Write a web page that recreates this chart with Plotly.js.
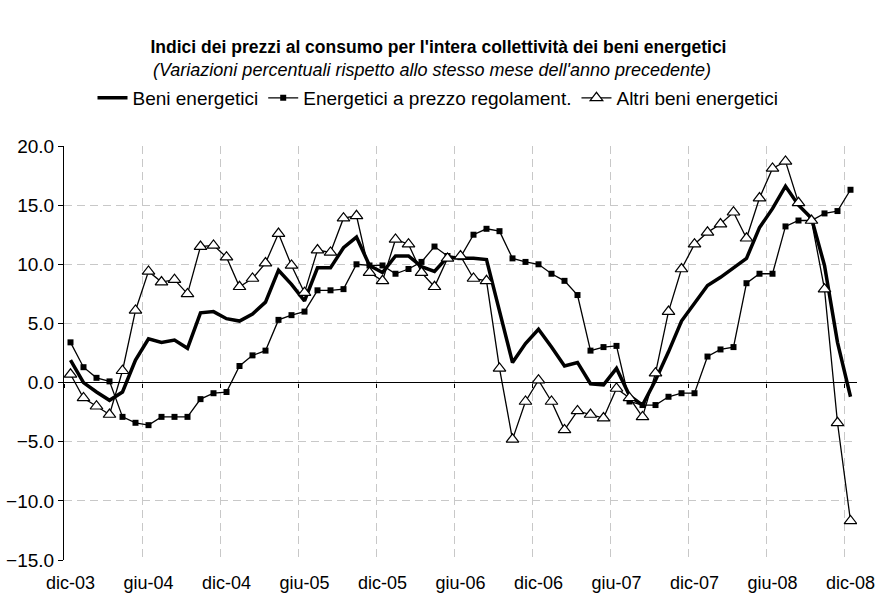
<!DOCTYPE html>
<html>
<head>
<meta charset="utf-8">
<script src="https://cdn.plot.ly/plotly-3.0.1.min.js"></script>
<style>html,body{margin:0;padding:0;background:#fff;}#chart{width:877px;height:594px;}</style>
</head>
<body>
<div id="chart"></div>
<script>
const months = [
  'dic-03',
  'gen-04','feb-04','mar-04','apr-04','mag-04','giu-04','lug-04','ago-04','set-04','ott-04','nov-04','dic-04',
  'gen-05','feb-05','mar-05','apr-05','mag-05','giu-05','lug-05','ago-05','set-05','ott-05','nov-05','dic-05',
  'gen-06','feb-06','mar-06','apr-06','mag-06','giu-06','lug-06','ago-06','set-06','ott-06','nov-06','dic-06',
  'gen-07','feb-07','mar-07','apr-07','mag-07','giu-07','lug-07','ago-07','set-07','ott-07','nov-07','dic-07',
  'gen-08','feb-08','mar-08','apr-08','mag-08','giu-08','lug-08','ago-08','set-08','ott-08','nov-08','dic-08'
];
const tickLabels = ['dic-03','giu-04','dic-04','giu-05','dic-05','giu-06','dic-06','giu-07','dic-07','giu-08','dic-08'];

const beniEnergetici = [
  1.9,
  0.0, -0.8, -1.5, -0.8, 1.9, 3.7, 3.4, 3.6, 2.9, 5.9, 6.0, 5.4,
  5.2, 5.8, 6.8, 9.5, 8.3, 6.9, 9.7, 9.7, 11.4, 12.3, 9.9, 9.3,
  10.7, 10.7, 9.8, 9.4, 10.6, 10.5, 10.5, 10.4, 6.1, 1.7, 3.3, 4.5,
  3.0, 1.4, 1.7, -0.1, -0.2, 1.2, -1.1, -1.9, 0.2, 2.6, 5.2, 6.7,
  8.2, 8.9, 9.7, 10.5, 13.1, 14.7, 16.6, 15.0, 13.9, 9.9, 3.4, -1.2
];
const prezzoRegolamentato = [
  3.4,
  1.3, 0.4, 0.1, -2.9, -3.4, -3.6, -2.9, -2.9, -2.9, -1.4, -0.9, -0.8,
  1.4, 2.3, 2.7, 5.3, 5.7, 6.0, 7.8, 7.8, 7.9, 10.0, 9.9, 9.9,
  9.2, 9.6, 10.2, 11.5, 10.7, 10.6, 12.5, 13.0, 12.8, 10.5, 10.2, 10.0,
  9.2, 8.6, 7.4, 2.7, 3.0, 3.1, -1.6, -1.9, -1.9, -1.2, -0.9, -0.9,
  2.2, 2.8, 3.0, 8.4, 9.2, 9.2, 13.2, 13.7, 13.7, 14.3, 14.5, 16.3
];
const altriBeni = [
  0.7,
  -1.3, -2.0, -2.7, 1.0, 6.1, 9.4, 8.5, 8.7, 7.5, 11.5, 11.6, 10.6,
  8.1, 8.8, 10.1, 12.6, 9.9, 7.6, 11.2, 11.0, 13.9, 14.1, 9.3, 8.6,
  12.1, 11.7, 9.3, 8.1, 10.5, 10.7, 8.8, 8.6, 1.2, -4.8, -1.6, 0.2,
  -1.6, -4.0, -2.4, -2.7, -3.0, -0.5, -1.3, -2.9, 0.8, 6.0, 9.6, 11.7,
  12.7, 13.4, 14.4, 12.2, 15.6, 18.1, 18.7, 15.2, 13.7, 7.9, -3.4, -11.7
];
const seriesNames = ['Beni energetici', 'Energetici a prezzo regolament.', 'Altri beni energetici'];
const yTicks = [-15, -10, -5, 0, 5, 10, 15, 20];
const yRange = [-15, 20];

const FONT = 'Liberation Sans, Arial, sans-serif';

const traces = [
  {
    x: months, y: beniEnergetici, name: seriesNames[0], type: 'scatter', mode: 'lines',
    line: {color: '#000', width: 3.5}
  },
  {
    x: months, y: prezzoRegolamentato, name: seriesNames[1], type: 'scatter', mode: 'lines+markers',
    line: {color: '#000', width: 1.3},
    marker: {symbol: 'square', size: 6, color: '#000', line: {width: 0}}
  },
  {
    x: months, y: altriBeni, name: seriesNames[2], type: 'scatter', mode: 'lines+markers',
    line: {color: '#000', width: 1.3},
    marker: {symbol: 'triangle-up', size: 11, color: '#fff', line: {color: '#000', width: 1.2}}
  },
  {
    // empty helper trace so that the tick axis at y = 0 is drawn
    x: [], y: [], xaxis: 'x2', yaxis: 'y', type: 'scatter', mode: 'lines',
    showlegend: false, hoverinfo: 'skip'
  }
];

const layout = {
  width: 877, height: 594,
  margin: {l: 64, r: 20, t: 146, b: 34},
  paper_bgcolor: '#fff', plot_bgcolor: '#fff',
  font: {family: FONT, color: '#000', size: 18},
  showlegend: true,
  title: {
    text: "<b>Indici dei prezzi al consumo per l'intera collettività dei beni energetici</b>",
    font: {family: FONT, size: 17.5, color: '#000'},
    x: 0.5, xanchor: 'center', xref: 'container',
    y: 1 - 47/594, yanchor: 'middle'
  },
  annotations: [{
    text: "<i>(Variazioni percentuali rispetto allo stesso mese dell'anno precedente)</i>",
    xref: 'paper', yref: 'paper', x: (432 - 64) / 793, y: (560 - 70) / 414,
    xanchor: 'center', yanchor: 'middle', showarrow: false,
    font: {family: FONT, size: 18, color: '#000'}
  }],
  legend: {
    orientation: 'h', x: (438 - 64) / 793, xanchor: 'center', y: (560 - 98) / 414, yanchor: 'middle',
    font: {family: FONT, size: 19, color: '#000'},
    itemwidth: 30, tracegroupgap: 0, bgcolor: 'rgba(0,0,0,0)'
  },
  xaxis: {
    type: 'category',
    categoryorder: 'array', categoryarray: months,
    range: [-0.5, 60.5],
    tickmode: 'array', tickvals: tickLabels, ticktext: tickLabels,
    tickson: 'boundaries', tickangle: 0,
    ticks: '', ticklabelstandoff: 10,
    showline: false, zeroline: false,
    showgrid: true, gridcolor: '#c8c8c8', gridwidth: 1, griddash: '8px,5px',
    tickfont: {family: FONT, size: 18, color: '#000'},
    fixedrange: true
  },
  xaxis2: {
    type: 'linear',
    overlaying: 'x', anchor: 'free', position: (0 - yRange[0]) / (yRange[1] - yRange[0]),
    range: [-0.5, 60.5], autorange: false, tickmode: 'linear', tick0: -0.5, dtick: 6,
    ticks: 'outside', ticklen: 4, tickcolor: '#000', tickwidth: 1,
    showticklabels: false, showgrid: false, zeroline: false, showline: false,
    fixedrange: true
  },
  yaxis: {
    range: yRange,
    tickmode: 'array', tickvals: yTicks, tickformat: '.1f',
    showline: true, linecolor: '#000', linewidth: 1,
    ticks: 'outside', ticklen: 5, tickcolor: '#000', tickwidth: 1,
    showgrid: true, gridcolor: '#c8c8c8', gridwidth: 1, griddash: '8px,5px',
    zeroline: true, zerolinecolor: '#000', zerolinewidth: 1,
    tickfont: {family: FONT, size: 19, color: '#000'},
    fixedrange: true
  }
};

Plotly.newPlot('chart', traces, layout, {displayModeBar: false, staticPlot: true});
</script>
</body>
</html>
